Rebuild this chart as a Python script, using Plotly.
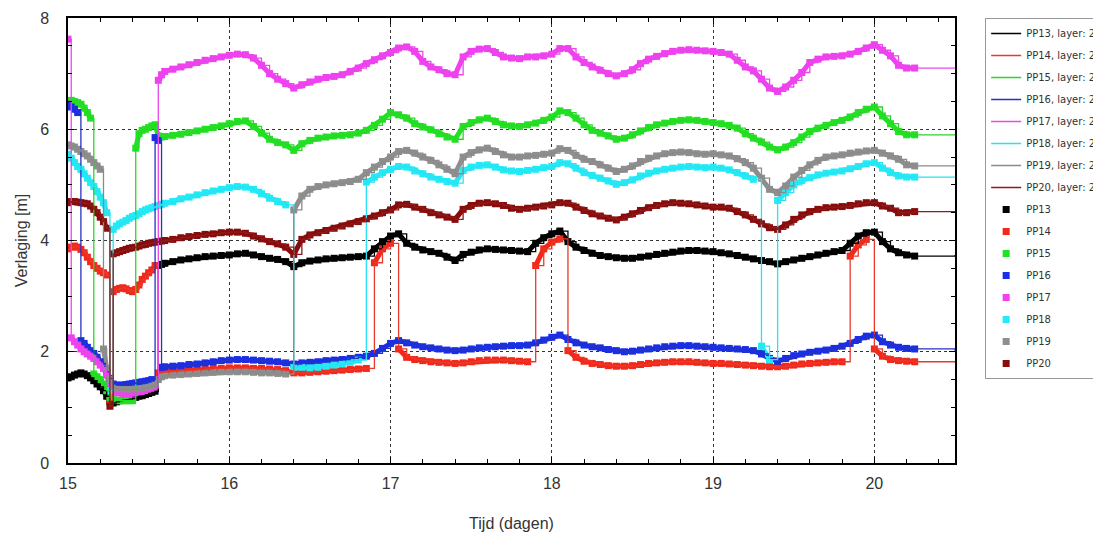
import plotly.graph_objects as go

# ---------------- time axis (days) ----------------
T_EARLY = [15.00, 15.02, 15.04, 15.06, 15.08, 15.10, 15.12, 15.14, 15.16, 15.18,
           15.20, 15.22, 15.24, 15.26, 15.28, 15.30, 15.32, 15.34, 15.36, 15.38,
           15.40, 15.42, 15.44, 15.46, 15.48, 15.50, 15.52, 15.54, 15.56, 15.58, 15.60]
T_LATE = [15.65, 15.70, 15.75, 15.80, 15.85, 15.90, 15.95, 16.00, 16.05, 16.10,
          16.15, 16.20, 16.25, 16.30, 16.35, 16.40, 16.45, 16.50, 16.55, 16.60,
          16.65, 16.70, 16.75, 16.80, 16.85, 16.90, 16.95, 17.00, 17.05, 17.10,
          17.15, 17.20, 17.25, 17.30, 17.35, 17.40, 17.45, 17.50, 17.55, 17.60,
          17.65, 17.70, 17.75, 17.80, 17.85, 17.90, 17.95, 18.00, 18.05, 18.10,
          18.15, 18.20, 18.25, 18.30, 18.35, 18.40, 18.45, 18.50, 18.55, 18.60,
          18.65, 18.70, 18.75, 18.80, 18.85, 18.90, 18.95, 19.00, 19.05, 19.10,
          19.15, 19.20, 19.25, 19.30, 19.35, 19.40, 19.45, 19.50, 19.55, 19.60,
          19.65, 19.70, 19.75, 19.80, 19.85, 19.90, 19.95, 20.00, 20.05, 20.10,
          20.15, 20.20, 20.25]
T_MODEL_END = 20.5

X_TICKS = [15, 16, 17, 18, 19, 20]
Y_TICKS = [0, 2, 4, 6, 8]

NAMES = ["PP13", "PP14", "PP15", "PP16", "PP17", "PP18", "PP19", "PP20"]

# ---------------- drawdown per well (m) ----------------
PP13 = [1.53, 1.55, 1.58, 1.60, 1.62, 1.60, 1.57, 1.53, 1.48, 1.42,
        1.37, 1.30, 1.20, 1.10, 1.08, 1.10, 1.12, 1.13, 1.14, 1.15,
        1.16, 1.18, 1.20, 1.21, 1.23, 1.25, 1.27, 1.29, 3.55, 3.57, 3.59,
        3.62, 3.65, 3.67, 3.69, 3.71, 3.72, 3.73, 3.74, 3.76, 3.77,
        3.74, 3.71, 3.68, 3.66, 3.62, 3.53, 3.60, 3.63, 3.65, 3.67,
        3.68, 3.69, 3.70, 3.71, 3.72, 3.85, 3.98, 4.08, 4.12, 3.95,
        3.88, 3.83, 3.80, 3.77, 3.70, 3.64, 3.75, 3.79, 3.83, 3.85,
        3.84, 3.83, 3.82, 3.81, 3.80, 3.95, 4.05, 4.12, 4.17, 3.98,
        3.88, 3.82, 3.77, 3.73, 3.71, 3.69, 3.68, 3.68, 3.70, 3.72,
        3.75, 3.77, 3.79, 3.81, 3.82, 3.82, 3.81, 3.80, 3.78, 3.76,
        3.73, 3.70, 3.67, 3.64, 3.62, 3.58, 3.62, 3.65, 3.68, 3.71,
        3.74, 3.77, 3.80, 3.82, 3.95, 4.08, 4.14, 4.15, 3.98, 3.85,
        3.78, 3.74, 3.72]
PP14 = [3.85, 3.88, 3.90, 3.88, 3.84, 3.78, 3.70, 3.62, 3.55, 3.50,
        3.45, 3.42, 3.38, 1.12, 3.08, 3.12, 3.14, 3.15, 3.13, 3.10,
        3.08, 3.12, 3.20, 3.30, 3.36, 3.42, 3.47, 3.55, 1.62, 1.63, 1.64,
        1.65, 1.66, 1.67, 1.68, 1.69, 1.70, 1.70, 1.71, 1.71, 1.71,
        1.70, 1.70, 1.69, 1.68, 1.66, 1.62, 1.62, 1.63, 1.64, 1.65,
        1.66, 1.67, 1.68, 1.69, 1.70, 3.60, 3.85, 3.95, 2.05, 1.90,
        1.86, 1.84, 1.82, 1.81, 1.80, 1.79, 1.80, 1.82, 1.84, 1.85,
        1.85, 1.85, 1.84, 1.83, 1.82, 3.55, 3.85, 3.97, 4.03, 2.02,
        1.90, 1.83, 1.79, 1.77, 1.75, 1.74, 1.74, 1.75, 1.77, 1.79,
        1.80, 1.81, 1.82, 1.82, 1.82, 1.81, 1.80, 1.79, 1.79, 1.78,
        1.77, 1.76, 1.75, 1.74, 1.73, 1.73, 1.74, 1.76, 1.78, 1.79,
        1.80, 1.81, 1.82, 1.82, 3.72, 3.92, 4.02, 2.05, 1.92, 1.86,
        1.84, 1.83, 1.82]
PP15 = [6.50, 6.52, 6.50, 6.48, 6.45, 6.38, 6.30, 6.20, 1.60, 1.55,
        1.50, 1.42, 1.30, 1.18, 1.14, 1.13, 1.12, 1.12, 1.12, 1.12,
        1.12, 5.66, 5.92, 5.98, 6.00, 6.03, 6.06, 6.08, 5.88, 5.86, 5.87,
        5.89, 5.91, 5.94, 5.97, 6.00, 6.03, 6.06, 6.10, 6.14, 6.15,
        6.05, 5.93, 5.82, 5.76, 5.72, 5.62, 5.74, 5.80, 5.84, 5.86,
        5.88, 5.89, 5.90, 5.93, 5.98, 6.07, 6.18, 6.30, 6.26, 6.20,
        6.10, 6.04, 5.99, 5.92, 5.86, 5.82, 6.05, 6.12, 6.17, 6.20,
        6.14, 6.08, 6.06, 6.05, 6.08, 6.11, 6.16, 6.22, 6.33, 6.30,
        6.20, 6.08, 5.98, 5.93, 5.88, 5.82, 5.84, 5.90, 5.97, 6.03,
        6.08, 6.11, 6.14, 6.16, 6.17, 6.16, 6.14, 6.12, 6.10, 6.07,
        6.02, 5.92, 5.84, 5.77, 5.68, 5.63, 5.68, 5.76, 5.86, 5.96,
        6.02, 6.07, 6.12, 6.16, 6.22, 6.30, 6.36, 6.40, 6.24, 6.10,
        5.96, 5.90, 5.90]
PP16 = [6.45, 6.40, 6.36, 6.30, 2.20, 2.15, 2.08, 2.02, 1.97, 1.90,
        1.82, 1.74, 1.64, 1.52, 1.42, 1.40, 1.40, 1.40, 1.41, 1.42,
        1.43, 1.44, 1.45, 1.46, 1.47, 1.48, 1.50, 5.85, 5.80, 1.72, 1.73,
        1.74, 1.75, 1.77, 1.78, 1.80, 1.82, 1.84, 1.85, 1.86, 1.86,
        1.85, 1.84, 1.83, 1.82, 1.80, 1.78, 1.80, 1.81, 1.82, 1.84,
        1.85, 1.86, 1.88, 1.90, 1.92, 1.97, 2.06, 2.15, 2.20, 2.16,
        2.12, 2.09, 2.07, 2.05, 2.03, 2.02, 2.03, 2.05, 2.07, 2.08,
        2.09, 2.10, 2.11, 2.11, 2.12, 2.16, 2.21, 2.26, 2.30, 2.22,
        2.16, 2.12, 2.09, 2.07, 2.04, 2.02, 2.00, 2.01, 2.03, 2.05,
        2.07, 2.09, 2.10, 2.11, 2.11, 2.10, 2.09, 2.08, 2.07, 2.06,
        2.05, 2.04, 2.02, 1.96, 1.88, 1.83, 1.88, 1.93, 1.96, 1.99,
        2.01, 2.03, 2.06, 2.10, 2.15, 2.22, 2.28, 2.30, 2.18, 2.12,
        2.08, 2.06, 2.05]
PP17 = [7.62, 2.25, 2.18, 2.12, 2.05, 2.00, 1.96, 1.92, 1.88, 1.82,
        1.76, 1.70, 1.58, 1.38, 1.28, 1.27, 1.26, 1.26, 1.25, 1.25,
        1.26, 1.26, 1.27, 1.28, 1.29, 1.30, 1.32, 1.35, 6.88, 6.98, 7.04,
        7.08, 7.12, 7.16, 7.20, 7.24, 7.27, 7.30, 7.33, 7.35, 7.34,
        7.28, 7.15, 7.00, 6.90, 6.82, 6.74, 6.80, 6.85, 6.90, 6.93,
        6.95, 6.98, 7.04, 7.10, 7.18, 7.25, 7.32, 7.38, 7.46, 7.48,
        7.40, 7.22, 7.12, 7.07, 7.00, 6.98, 7.30, 7.40, 7.44, 7.45,
        7.38, 7.30, 7.28, 7.27, 7.30, 7.30, 7.32, 7.35, 7.45, 7.45,
        7.30, 7.20, 7.12, 7.06, 7.00, 6.96, 7.00, 7.07, 7.18, 7.26,
        7.31, 7.36, 7.40, 7.42, 7.43, 7.42, 7.41, 7.40, 7.38, 7.35,
        7.24, 7.12, 7.05, 6.90, 6.74, 6.68, 6.76, 6.88, 7.02, 7.20,
        7.26, 7.30, 7.31, 7.32, 7.35, 7.40, 7.46, 7.52, 7.42, 7.32,
        7.15, 7.10, 7.10]
PP18 = [5.55, 5.48, 5.40, 5.33, 5.28, 5.20, 5.12, 5.04, 4.97, 4.88,
        4.78, 4.68, 4.50, 1.30, 4.20, 4.26, 4.30, 4.33, 4.36, 4.40,
        4.43, 4.45, 4.48, 4.52, 4.55, 4.57, 4.59, 4.61, 4.63, 4.65, 4.67,
        4.70, 4.75, 4.78, 4.82, 4.86, 4.89, 4.92, 4.95, 4.97, 4.96,
        4.92, 4.84, 4.76, 4.70, 4.64, 1.72, 1.72, 1.71, 1.72, 1.74,
        1.76, 1.78, 1.81, 1.85, 5.05, 5.14, 5.22, 5.28, 5.33, 5.32,
        5.25, 5.20, 5.14, 5.10, 5.06, 5.03, 5.26, 5.32, 5.35, 5.36,
        5.32, 5.27, 5.25, 5.24, 5.26, 5.28, 5.31, 5.33, 5.40, 5.38,
        5.30, 5.22, 5.17, 5.12, 5.07, 5.01, 5.04, 5.09, 5.16, 5.21,
        5.25, 5.28, 5.30, 5.32, 5.33, 5.32, 5.31, 5.32, 5.30, 5.27,
        5.22, 5.16, 5.10, 2.10, 1.86, 4.72, 4.86, 5.00, 5.08, 5.13,
        5.18, 5.21, 5.23, 5.25, 5.29, 5.33, 5.38, 5.40, 5.30, 5.22,
        5.16, 5.14, 5.14]
PP19 = [5.72, 5.70, 5.68, 5.64, 5.60, 5.56, 5.52, 5.46, 5.40, 5.34,
        5.28, 2.05, 1.70, 1.50, 1.36, 1.33, 1.32, 1.32, 1.32, 1.32,
        1.32, 1.33, 1.33, 1.34, 1.35, 1.36, 1.38, 1.40, 1.50, 1.55, 1.57,
        1.58, 1.59, 1.60, 1.61, 1.62, 1.63, 1.64, 1.64, 1.64, 1.64,
        1.63, 1.62, 1.62, 1.61, 1.60, 4.55, 4.80, 4.92, 4.97, 5.00,
        5.02, 5.04, 5.06, 5.10, 5.22, 5.32, 5.42, 5.50, 5.60, 5.62,
        5.57, 5.50, 5.44, 5.36, 5.28, 5.20, 5.50, 5.58, 5.63, 5.66,
        5.60, 5.54, 5.50, 5.50, 5.52, 5.53, 5.55, 5.57, 5.65, 5.62,
        5.53, 5.46, 5.42, 5.36, 5.30, 5.24, 5.28, 5.34, 5.42, 5.48,
        5.52, 5.56, 5.58, 5.59, 5.58, 5.56, 5.55, 5.56, 5.54, 5.52,
        5.47, 5.40, 5.30, 5.12, 4.92, 4.86, 4.98, 5.14, 5.26, 5.36,
        5.44, 5.50, 5.52, 5.54, 5.57, 5.59, 5.61, 5.62, 5.57, 5.52,
        5.46, 5.36, 5.34]
PP20 = [4.68, 4.70, 4.70, 4.69, 4.68, 4.67, 4.66, 4.62, 4.56, 4.50,
        4.42, 4.34, 4.22, 1.02, 3.76, 3.78, 3.80, 3.82, 3.84, 3.86,
        3.87, 3.88, 3.90, 3.92, 3.93, 3.95, 3.96, 3.97, 3.98, 3.99, 4.00,
        4.02, 4.05, 4.07, 4.09, 4.11, 4.12, 4.14, 4.15, 4.15, 4.13,
        4.08, 4.03, 3.98, 3.94, 3.88, 3.75, 4.02, 4.10, 4.14, 4.18,
        4.22, 4.26, 4.30, 4.34, 4.39, 4.44, 4.50, 4.55, 4.64, 4.65,
        4.60, 4.56, 4.50, 4.46, 4.42, 4.38, 4.56, 4.63, 4.67, 4.68,
        4.66, 4.63, 4.58, 4.56, 4.58, 4.60, 4.62, 4.64, 4.68, 4.67,
        4.60, 4.54, 4.48, 4.44, 4.40, 4.37, 4.42, 4.48, 4.54, 4.59,
        4.63, 4.66, 4.68, 4.67, 4.66, 4.64, 4.62, 4.60, 4.60, 4.58,
        4.52, 4.46, 4.38, 4.30, 4.23, 4.20, 4.28, 4.38, 4.46, 4.52,
        4.56, 4.59, 4.60, 4.61, 4.63, 4.66, 4.68, 4.68, 4.62, 4.58,
        4.50, 4.50, 4.52]

# model value held to the end of the run (20.5 d)
MODEL_END = [3.74, 1.82, 5.90, 2.02, 7.10, 5.14, 5.34, 4.50]

MARKER_COLORS = ["#000000", "#f2281a", "#22e022", "#1a2ee6",
                 "#f040f0", "#22eaf6", "#8e8e8e", "#880c0c"]
LINE_COLORS = ["#000000", "#e83a2c", "#2ad62a", "#2433c4",
               "#e848e8", "#2ae2f0", "#8a8a8a", "#8e1a1a"]

SERIES = [PP13, PP14, PP15, PP16, PP17, PP18, PP19, PP20]
T = T_EARLY + T_LATE
for s in SERIES:
    assert len(s) == len(T), (len(s), len(T))


def split_at_jumps(xs, ys, thr=0.8):
    ox, oy, prev = [], [], None
    for x, y in zip(xs, ys):
        if prev is not None and abs(y - prev) > thr:
            ox.append(None)
            oy.append(None)
        ox.append(x)
        oy.append(y)
        prev = y
    return ox, oy


fig = go.Figure()

# measured data: dense band (no legend) + square markers
for i, (name, ys) in enumerate(zip(NAMES, SERIES)):
    bx, by = split_at_jumps(T, ys)
    fig.add_trace(go.Scatter(
        x=bx, y=by, mode="lines", line=dict(color=MARKER_COLORS[i], width=5),
        legendgroup="d" + name, showlegend=False, hoverinfo="skip"))
for i, (name, ys) in enumerate(zip(NAMES, SERIES)):
    fig.add_trace(go.Scatter(
        x=T, y=ys, mode="markers", name=name,
        marker=dict(symbol="square", size=7, color=MARKER_COLORS[i]),
        legendgroup="d" + name, legendrank=100 + i))

# model lines
for i, (name, ys) in enumerate(zip(NAMES, SERIES)):
    fig.add_trace(go.Scatter(
        x=T + [T_MODEL_END], y=ys + [MODEL_END[i]], mode="lines",
        name=f"{name}, layer: 2", line=dict(color=LINE_COLORS[i], width=1.3, shape="hv"),
        legendgroup="m" + name, legendrank=i))

axis_common = dict(
    showline=True, linecolor="black", linewidth=1.5, mirror="ticks",
    ticks="inside", ticklen=6, tickcolor="black", tickwidth=1,
    showgrid=True, gridcolor="#333333", griddash="dot", gridwidth=1,
    zeroline=False, automargin=False,
    tickfont=dict(family="Liberation Sans, Arial, sans-serif", size=16, color="#333333"),
)

fig.update_xaxes(
    range=[15, 20.5], tickvals=X_TICKS, ticktext=[str(v) for v in X_TICKS],
    minor=dict(dtick=0.2, tick0=15, ticks="inside", ticklen=4, tickcolor="black", showgrid=False),
    title=dict(text="Tijd (dagen)", standoff=27,
               font=dict(family="Liberation Sans, Arial, sans-serif", size=16, color="#333333")),
    ticklabelstandoff=5,
    **axis_common)
fig.update_yaxes(
    range=[0, 8], tickvals=Y_TICKS, ticktext=[str(v) for v in Y_TICKS],
    minor=dict(dtick=0.5, tick0=0, ticks="inside", ticklen=4, tickcolor="black", showgrid=False),
    title=dict(text="Verlaging [m]", standoff=9,
               font=dict(family="Liberation Sans, Arial, sans-serif", size=16, color="#333333")),
    ticklabelstandoff=14,
    **axis_common)

fig.update_layout(
    width=1101, height=533,
    margin=dict(l=60, r=154, t=10, b=78, autoexpand=False),
    plot_bgcolor="white", paper_bgcolor="white",
    showlegend=True,
    legend=dict(
        x=1.034, xanchor="left", y=1.0, yanchor="top",
        bordercolor="#9a9a9a", borderwidth=1, bgcolor="white",
        font=dict(family="DejaVu Sans, sans-serif", size=10, color="#333333"),
        traceorder="grouped", tracegroupgap=3,
    ),
)

fig.write_html("out.html")
